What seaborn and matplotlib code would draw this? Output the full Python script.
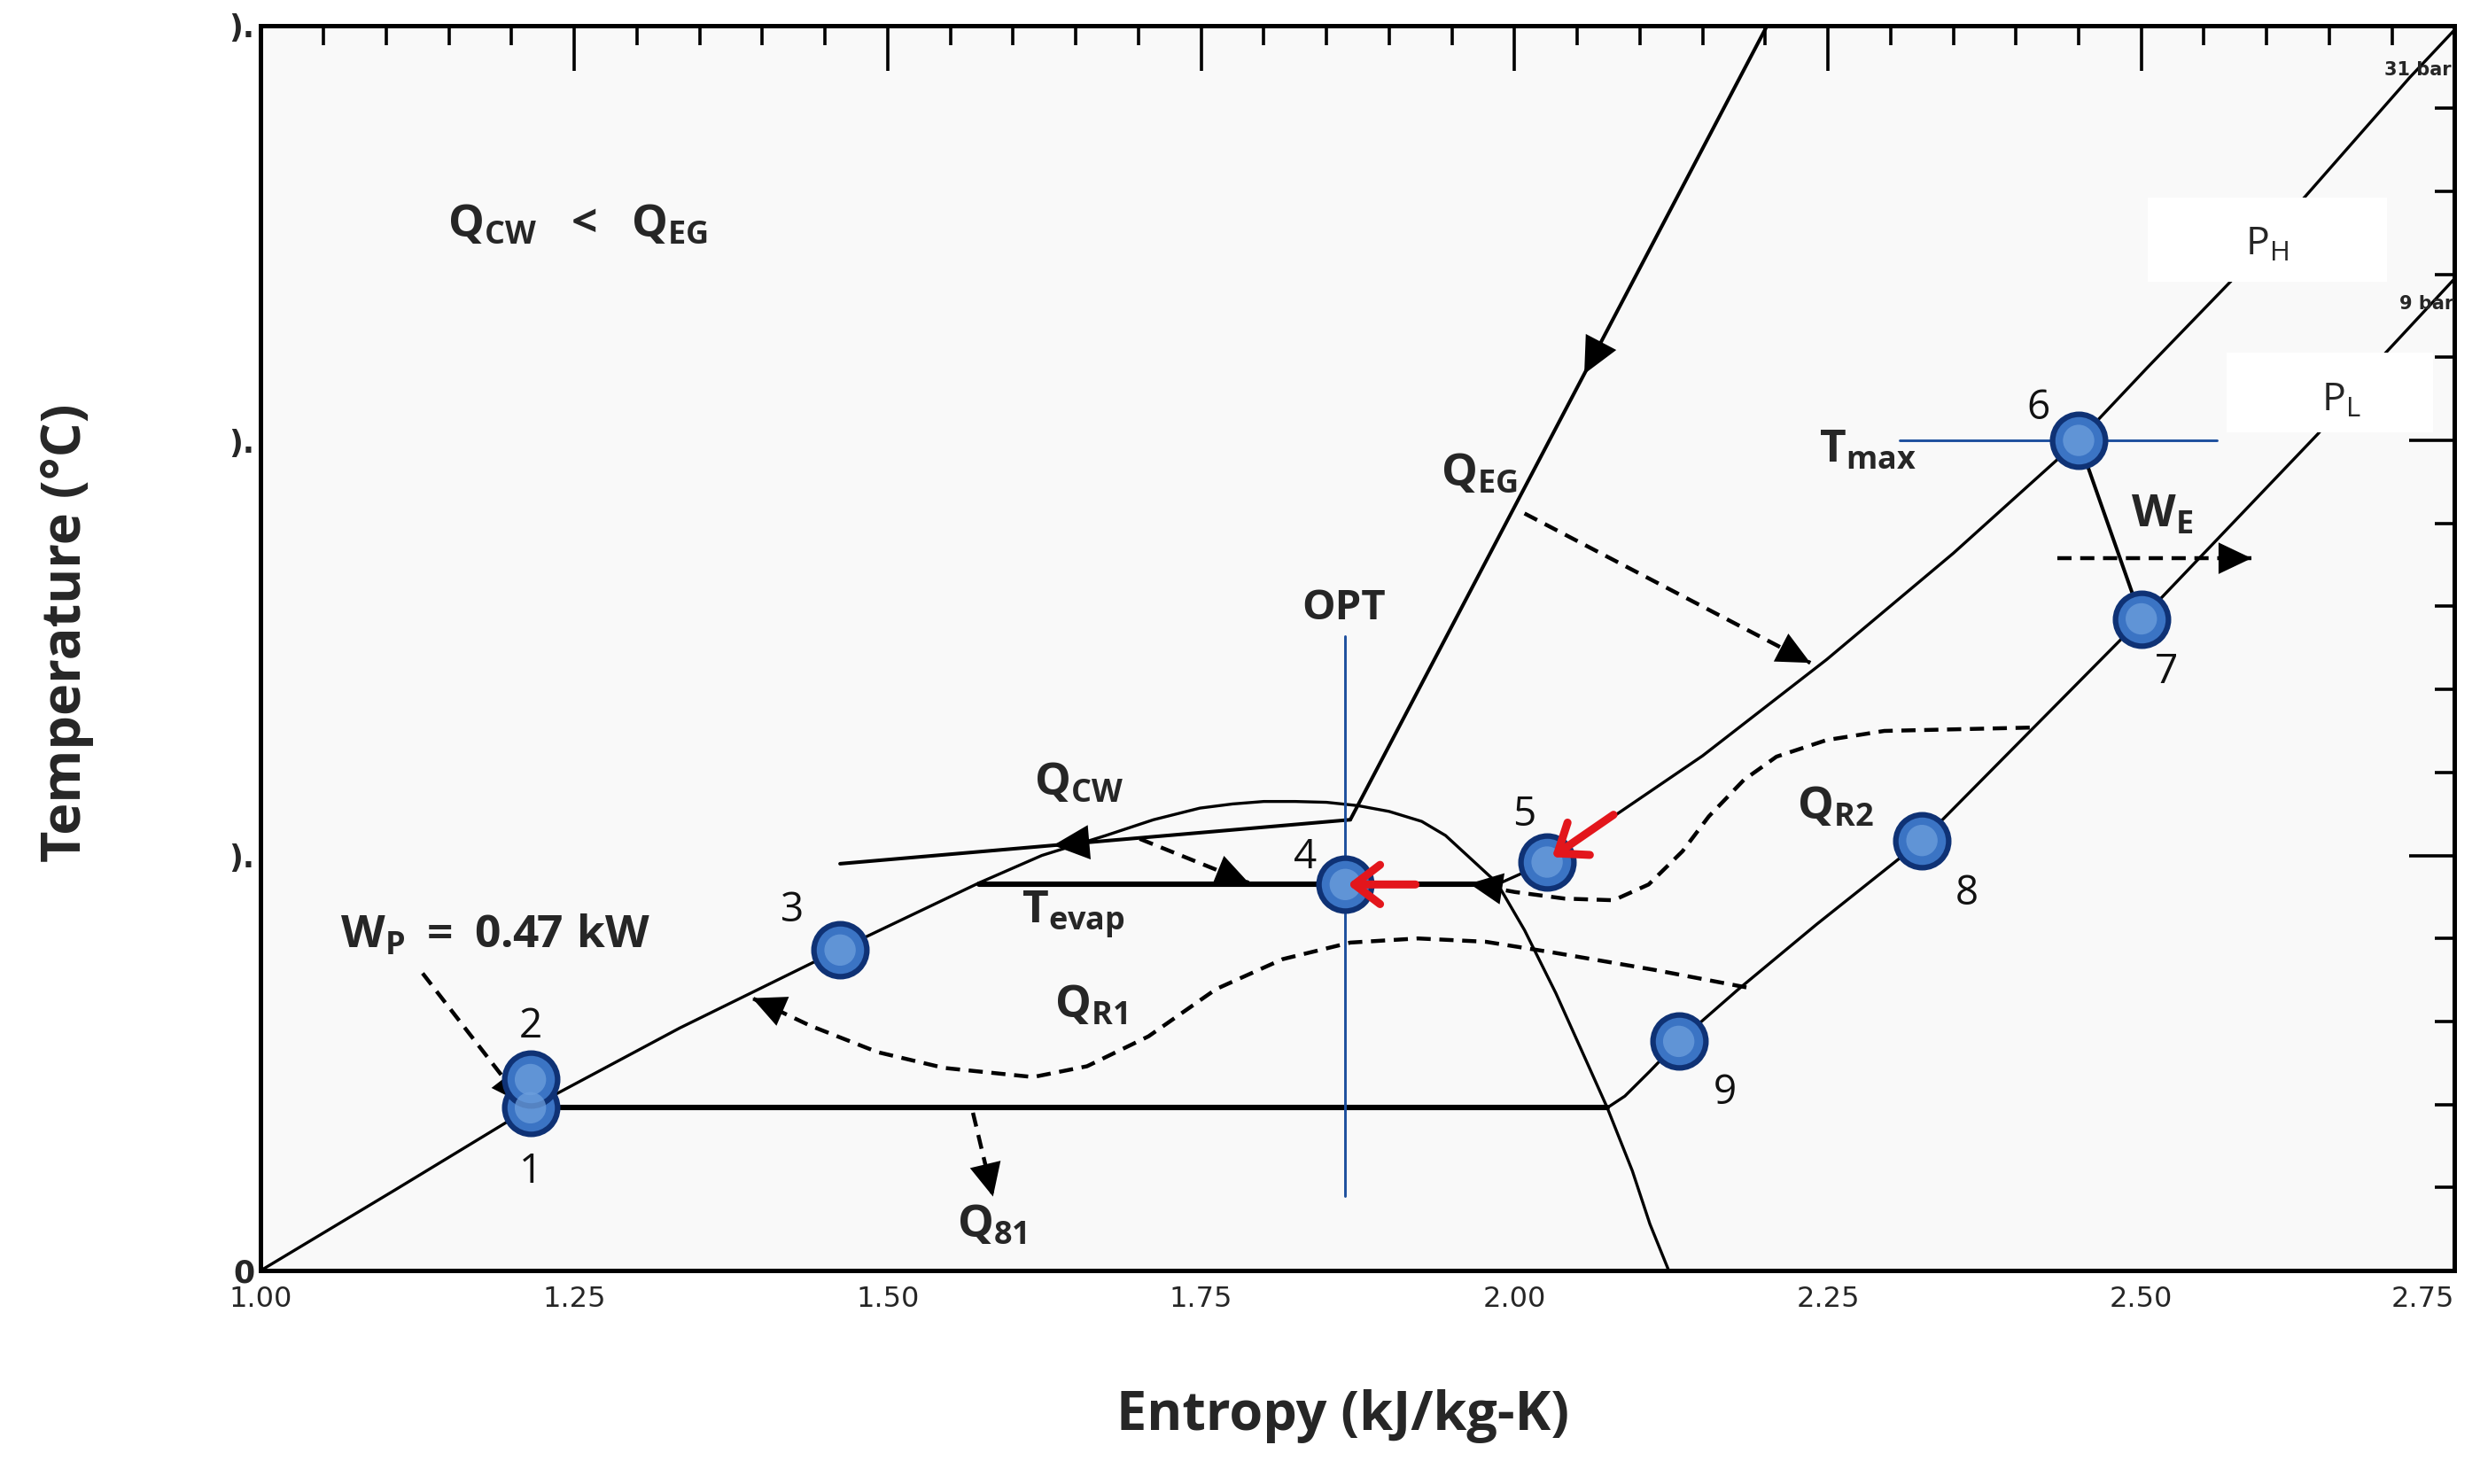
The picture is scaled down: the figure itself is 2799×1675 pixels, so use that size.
import numpy as np
import pandas as pd
import matplotlib
matplotlib.use("Agg")
import matplotlib.pyplot as plt
import matplotlib.patches as mpatches
from matplotlib.ticker import MultipleLocator
import seaborn as sns

# state points of the cycle (entropy kJ/kg-K, temperature C)
state_labels = ["1", "2", "3", "4", "5", "6", "7", "8", "9"]
state_s = [1.215, 1.215, 1.462, 1.865, 2.026, 2.450, 2.500, 2.325, 2.131]
state_T = [19.6, 23.0, 38.6, 46.5, 49.2, 100.0, 78.5, 51.8, 27.6]
label_s = [1.215, 1.215, 1.424, 1.833, 2.008, 2.418, 2.520, 2.361, 2.168]
label_T = [11.8, 29.4, 43.3, 49.7, 54.9, 103.9, 72.0, 45.4, 21.3]

# saturation dome
dome_s = [1.000, 1.107, 1.215, 1.334, 1.462, 1.523, 1.573, 1.623, 1.674, 1.712,
          1.749, 1.775, 1.800, 1.825, 1.850, 1.875, 1.900, 1.926, 1.945, 1.963,
          1.986, 2.008, 2.033, 2.058, 2.074, 2.094, 2.108, 2.123]
dome_T = [0.0, 9.7, 19.6, 29.2, 38.7, 43.1, 46.7, 50.0, 52.4, 54.3,
          55.7, 56.2, 56.5, 56.5, 56.4, 56.0, 55.3, 54.1, 52.4, 49.9,
          46.7, 41.0, 33.4, 25.0, 19.6, 12.0, 5.6, 0.0]

# high pressure (31 bar) superheated branch
ph_s = [1.986, 2.026, 2.079, 2.150, 2.249, 2.350, 2.450, 2.505, 2.571, 2.714, 2.752]
ph_T = [46.5, 49.2, 54.7, 62.0, 73.6, 86.4, 100.0, 108.8, 119.1, 143.7, 149.8]

# low pressure (9 bar) superheated branch
pl_s = [2.074, 2.088, 2.108, 2.131, 2.178, 2.241, 2.325, 2.500, 2.641, 2.694, 2.750]
pl_T = [19.6, 21.0, 24.0, 27.6, 33.8, 41.7, 51.8, 78.5, 100.8, 110.4, 119.5]

# heat source / sink lines
qeg_s = [2.203, 1.869]
qeg_T = [150.4, 54.3]
qcw_s = [1.869, 1.462]
qcw_T = [54.3, 49.0]
tevap_s = [1.573, 1.986]
tevap_T = [46.5, 46.5]
q81_s = [1.239, 2.074]
q81_T = [19.6, 19.6]
exp_s = [2.450, 2.500]
exp_T = [100.0, 78.5]
opt_s = [1.865, 1.865]
opt_T = [9.0, 76.4]
tmax_s = [2.307, 2.560]
tmax_T = [100.0, 100.0]

# regenerator heat flows (dashed)
qr1_s = [2.185, 2.112, 2.031, 1.977, 1.923, 1.869, 1.815, 1.762, 1.708, 1.659,
         1.616, 1.545, 1.492, 1.438, 1.392]
qr1_T = [34.1, 36.2, 38.3, 39.6, 40.0, 39.5, 37.5, 33.9, 28.2, 24.6,
         23.3, 24.4, 26.3, 29.5, 32.8]
qr2_s = [2.411, 2.295, 2.249, 2.209, 2.183, 2.155, 2.134, 2.107, 2.079, 2.040, 2.000, 1.964]
qr2_T = [65.4, 65.0, 63.9, 61.9, 59.1, 54.7, 50.5, 46.5, 44.6, 44.8, 45.6, 46.6]

# straight dashed arrows: (s_start, T_start, s_end, T_end)
arrow_qeg = [2.008, 91.2, 2.236, 73.2]
arrow_wp = [1.129, 35.8, 1.210, 20.0]
arrow_we = [2.433, 85.8, 2.588, 85.8]
arrow_qcw = [1.701, 52.0, 1.788, 46.7]
arrow_q81 = [1.568, 19.0, 1.584, 8.9]

# red arrows into states 4 and 5
red_5 = [2.079, 54.9, 2.030, 49.8]
red_4 = [1.921, 46.5, 1.867, 46.5]

x_ticks = [1.00, 1.25, 1.50, 1.75, 2.00, 2.25, 2.50, 2.75]
y_ticks = [0, 50, 100, 150]
y_tick_labels = ["0", ").", ").", ")."]

sns.set_style("white")
plt.rcParams["font.family"] = ["Open Sans", "DejaVu Sans"]
plt.rcParams["mathtext.fontset"] = "custom"
plt.rcParams["mathtext.rm"] = "Open Sans"
plt.rcParams["mathtext.it"] = "Open Sans:italic"
plt.rcParams["mathtext.bf"] = "Open Sans:bold"

fig = plt.figure(figsize=(27.99, 16.75), dpi=100)
ax = fig.add_axes([0.1052, 0.1439, 0.8846, 0.8390])
ax.set_facecolor("#f9f9f9")

LW_THIN = 2.4
LW_MID = 2.9
LW_DASH = 3.2
LW_THICK = 4.4
DASH = (0, (3.6, 2.2))


def curve(s, T, color="black", lw=LW_THIN, ls="-", z=2):
    sns.lineplot(x=s, y=T, sort=False, estimator=None, ax=ax, color=color,
                 lw=lw, linestyle=ls, zorder=z, legend=False)


def head(tip, frm, color="black", scale=64, z=4):
    ax.annotate("", xy=tip, xytext=frm,
                arrowprops=dict(arrowstyle="-|>,head_length=0.42,head_width=0.2",
                                color=color, lw=0, shrinkA=0, shrinkB=0,
                                mutation_scale=scale), zorder=z)


def dashed_arrow(a):
    curve([a[0], a[2]], [a[1], a[3]], lw=LW_DASH, ls=DASH)
    head((a[2], a[3]), (a[0], a[1]))


# base curves
curve(dome_s, dome_T)
curve(ph_s, ph_T)
curve(pl_s, pl_T)
curve(qeg_s, qeg_T, lw=LW_MID)
curve(qcw_s, qcw_T, lw=LW_MID)
curve(tevap_s, tevap_T, lw=LW_THICK)
curve(q81_s, q81_T, lw=LW_THICK)
curve(exp_s, exp_T, lw=LW_MID)
curve(opt_s, opt_T, color="#1d4f9e", lw=2.1)
curve(tmax_s, tmax_T, color="#1d4f9e", lw=2.1)

# heads on the solid lines
t_head = 108.0
s_head = qeg_s[1] + (t_head - qeg_T[1]) * (qeg_s[0] - qeg_s[1]) / (qeg_T[0] - qeg_T[1])
head((s_head, t_head), (qeg_s[0], qeg_T[0]), scale=70)
s_head = 1.632
t_head = qcw_T[1] + (s_head - qcw_s[1]) * (qcw_T[0] - qcw_T[1]) / (qcw_s[0] - qcw_s[1])
head((s_head, t_head), (qcw_s[0], qcw_T[0]), scale=70)

# dashed heat flows
curve(qr1_s, qr1_T, lw=LW_DASH, ls=DASH)
head((qr1_s[-1], qr1_T[-1]), (qr1_s[-3], qr1_T[-3]))
curve(qr2_s, qr2_T, lw=LW_DASH, ls=DASH)
head((qr2_s[-1], qr2_T[-1]), (qr2_s[-3], qr2_T[-3]))
for a in [arrow_qeg, arrow_wp, arrow_we, arrow_qcw, arrow_q81]:
    dashed_arrow(a)

# white boxes behind the pressure labels
ax.add_patch(mpatches.Rectangle((2.505, 119.1), 0.191, 10.2, fc="white", ec="none", zorder=3))
ax.add_patch(mpatches.Rectangle((2.568, 101.0), 0.165, 9.6, fc="white", ec="none", zorder=3))

# state points
pts = pd.DataFrame({"s": state_s, "T": state_T})
sns.scatterplot(data=pts, x="s", y="T", s=1850, color="#3b74c4", edgecolor="#0f3275",
                linewidth=4.5, ax=ax, zorder=5, legend=False)
sns.scatterplot(data=pts, x="s", y="T", s=650, color="#6d9fdd", edgecolor="none",
                alpha=0.75, ax=ax, zorder=6, legend=False)

for a in [red_5, red_4]:
    ax.annotate("", xy=(a[2], a[3]), xytext=(a[0], a[1]),
                arrowprops=dict(arrowstyle="->,head_length=0.55,head_width=0.42",
                                color="#e3161c", lw=6.5, shrinkA=0, shrinkB=0,
                                mutation_scale=38), zorder=7)

for lab, s, T in zip(state_labels, label_s, label_T):
    ax.text(s, T, lab, fontsize=33, ha="center", va="center", zorder=8, color="#111111")

# annotations
BF = 37
ax.text(1.149, 124.5, r"$\mathbf{Q_{CW}\ \ <\ \ Q_{EG}}$", fontsize=BF, zorder=8)
ax.text(1.941, 94.5, r"$\mathbf{Q_{EG}}$", fontsize=BF, zorder=8)
ax.text(1.864, 78.5, "OPT", fontsize=BF - 3, fontweight="bold", ha="center", zorder=8)
ax.text(1.617, 57.2, r"$\mathbf{Q_{CW}}$", fontsize=BF, zorder=8)
ax.text(1.607, 41.9, r"$\mathbf{T_{evap}}$", fontsize=BF, zorder=8)
ax.text(1.063, 38.9, r"$\mathbf{W_P\ =\ 0.47\ kW}$", fontsize=BF, zorder=8)
ax.text(1.633, 30.4, r"$\mathbf{Q_{R1}}$", fontsize=BF, zorder=8)
ax.text(1.555, 4.0, r"$\mathbf{Q_{81}}$", fontsize=BF, zorder=8)
ax.text(2.225, 54.3, r"$\mathbf{Q_{R2}}$", fontsize=BF, zorder=8)
ax.text(2.243, 97.4, r"$\mathbf{T_{max}}$", fontsize=BF, zorder=8)
ax.text(2.492, 89.6, r"$\mathbf{W_E}$", fontsize=BF, zorder=8)
ax.text(2.583, 122.3, r"$\mathrm{P_H}$", fontsize=32, zorder=8)
ax.text(2.644, 103.6, r"$\mathrm{P_L}$", fontsize=32, zorder=8)
narrow = ["Liberation Sans Narrow", "DejaVu Sans"]
ax.text(2.747, 144.6, "31 bar", fontsize=15, family=narrow, fontweight="bold",
        ha="right", va="center", zorder=8)
ax.text(2.749, 116.4, "9 bar", fontsize=15, family=narrow, fontweight="bold",
        ha="right", va="center", zorder=8)

# axes, ticks
ax.set_xlim(1.0, 2.75)
ax.set_ylim(0, 150)
ax.set_xticks(x_ticks)
ax.set_xticklabels([f"{v:.2f}" for v in x_ticks], family=narrow, fontsize=23)
# last label sits at the figure edge: keep it inside the canvas
ax.get_xticklabels()[-1].set_horizontalalignment("right")
ax.set_yticks(y_ticks)
ax.set_yticklabels(y_tick_labels, family=narrow, fontsize=25, fontweight="bold")
ax.xaxis.set_minor_locator(MultipleLocator(0.05))
ax.yaxis.set_minor_locator(MultipleLocator(10))
ax.tick_params(which="both", direction="in", top=True, right=True, width=2.6, color="black")
ax.tick_params(which="major", length=37)
ax.tick_params(which="minor", length=16)
ax.tick_params(axis="x", pad=12)
ax.tick_params(axis="y", pad=5)
ax.set_xlabel("")
ax.set_ylabel("")
for sp in ax.spines.values():
    sp.set_linewidth(3.6)
    sp.set_color("black")

fig.text(0.0268, 0.5735, "Temperature (\u00b0C)", rotation=90, ha="center", va="center",
         fontsize=44, fontweight="bold")
fig.text(0.5415, 0.0458, "Entropy (kJ/kg-K)", ha="center", va="center",
         fontsize=44, fontweight="bold")

fig.savefig("out.png", dpi=100, facecolor="white")
